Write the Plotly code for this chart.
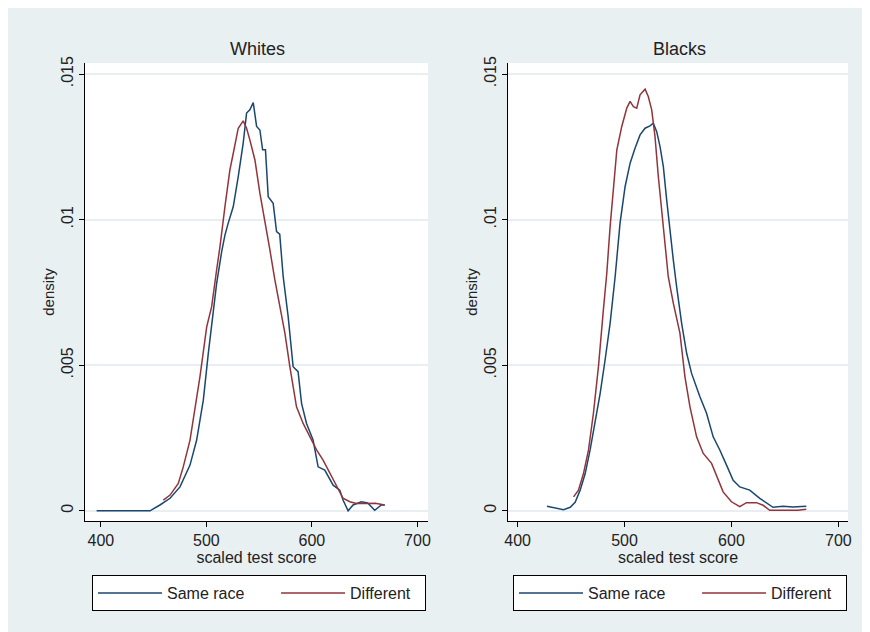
import plotly.graph_objects as go

# ---- data ----
w_same_x = [396, 446.6, 456, 465.6, 475, 484.5, 490.8, 497.1, 501.8, 506.5, 509.7, 514.5, 517.6, 520.7,
            525.5, 530.2, 534.9, 538.1, 541.2, 544.4, 547.6, 550.7, 553.3, 556, 558.6, 563.3, 566.5,
            569.5, 572.8, 577.5, 582.2, 586.9, 590.2, 594.9, 601.1, 605.9, 612.2, 620.1, 626.4, 629.5,
            634.3, 639, 646.9, 652.9, 659.5, 665.8, 669]
w_same_y = [0, 0, 0.0002, 0.00043, 0.00082, 0.00157, 0.00243, 0.0038, 0.0054, 0.0068, 0.0078, 0.0089,
            0.00947, 0.00988, 0.01045, 0.01148, 0.01263, 0.01366, 0.01377, 0.01402, 0.0132, 0.01308,
            0.0124, 0.0124, 0.01079, 0.01056, 0.00959, 0.0095, 0.00804, 0.00667, 0.00495, 0.00478,
            0.00369, 0.003, 0.00243, 0.00151, 0.0014, 0.00088, 0.00071, 0.00037, 0, 0.0002, 0.00031,
            0.00027, 0.00002, 0.0002, 0.0002]

w_diff_x = [459.2, 465.6, 473.4, 478.1, 484.5, 489.2, 493.9, 500.3, 505, 509.7, 512.9, 517.6, 522.3,
            525.5, 530.2, 534.9, 538.1, 541.2, 546, 550.7, 555.4, 560.2, 564.9, 569.6, 574.4, 579.1,
            585.4, 591.7, 598, 604.4, 610.6, 616.9, 623.3, 629.5, 635.9, 642.2, 652, 660, 669]
w_diff_y = [0.00037, 0.00054, 0.00094, 0.00151, 0.00243, 0.00346, 0.0046, 0.00632, 0.00701, 0.00827,
            0.00907, 0.01045, 0.01171, 0.01228, 0.01314, 0.01339, 0.01314, 0.01274, 0.01205, 0.01091,
            0.00999, 0.00896, 0.00793, 0.00701, 0.0061, 0.00495, 0.00357, 0.003, 0.00254, 0.00209,
            0.00174, 0.00129, 0.00082, 0.00043, 0.00031, 0.00025, 0.00025, 0.00026, 0.0002]

b_same_x = [427.4, 435.2, 442.9, 449.2, 453.8, 458.5, 463.2, 467.8, 472.5, 477.2, 481.8, 486.5, 491.2,
            495.8, 500.5, 505.2, 509.8, 514.5, 519.2, 523.8, 526.9, 530.1, 533.2, 536.3, 539.4, 542.5,
            545.6, 548.7, 553.4, 558.1, 562.7, 570.5, 576.7, 582.9, 589.1, 595.4, 601.6, 607.8, 617.1,
            626.5, 632.7, 638.9, 648.2, 657.5, 670]
b_same_y = [0.00016, 0.0001, 0.00004, 0.00012, 0.00029, 0.00071, 0.00128, 0.00209, 0.003, 0.00403,
            0.00518, 0.00644, 0.00804, 0.00988, 0.01113, 0.01194, 0.01245, 0.01291, 0.01314, 0.01322,
            0.01331, 0.01302, 0.01251, 0.01182, 0.01068, 0.00953, 0.00862, 0.0077, 0.00644, 0.00541,
            0.00472, 0.00392, 0.00335, 0.00254, 0.00209, 0.00157, 0.00105, 0.00082, 0.00071, 0.00043,
            0.00028, 0.00012, 0.00016, 0.00013, 0.00016]

b_diff_x = [452.3, 456.9, 461.6, 466.3, 470.9, 475.6, 480.2, 483.4, 486.5, 489.6, 492.8, 497.4, 502.1,
            505.2, 508.3, 511.4, 514.5, 519.2, 522.2, 525.4, 528.5, 531.6, 534.7, 537.8, 540.9, 545.6,
            551.8, 556.5, 561.2, 567.4, 573.6, 581.4, 587.6, 592.2, 600, 607.8, 614, 623.4, 629.6,
            635.8, 650, 662.1, 670]
b_diff_y = [0.00048, 0.00071, 0.00128, 0.00209, 0.00335, 0.00495, 0.0069, 0.00816, 0.00976, 0.01113,
            0.0124, 0.0132, 0.01383, 0.01406, 0.01388, 0.01383, 0.01429, 0.01448, 0.01423, 0.01377,
            0.01285, 0.01148, 0.01033, 0.00919, 0.00804, 0.00713, 0.0061, 0.0046, 0.00357, 0.00254,
            0.00197, 0.00163, 0.00105, 0.00065, 0.00031, 0.00014, 0.00028, 0.00028, 0.00019, 0.00002,
            0.00002, 0.00002, 0.00005]

panel_titles = ["Whites", "Blacks"]
series_names = ["Same race", "Different"]
x_ticks = [400, 500, 600, 700]
y_ticks = [0, 0.005, 0.01, 0.015]
y_ticktext = ["0", ".005", ".01", ".015"]

BLUE = "#1a476f"
RED = "#90353b"
BG = "#e9f0f2"
TXT = "#222222"
FONT = "Liberation Sans, Arial, sans-serif"

# the page body has an 8px margin, so the figure sits at (8, 8) in the window
OFF = 8
W, H = 862, 624
fig = go.Figure()

legend_names = [series_names[0] + "\u00a0" * 6, series_names[1] + "\u00a0" * 2]

fig.add_trace(go.Scatter(x=w_same_x, y=w_same_y, mode="lines", name=legend_names[0],
                         line=dict(color=BLUE, width=1.5), xaxis="x", yaxis="y", legend="legend"))
fig.add_trace(go.Scatter(x=w_diff_x, y=w_diff_y, mode="lines", name=legend_names[1],
                         line=dict(color=RED, width=1.5), xaxis="x", yaxis="y", legend="legend"))
fig.add_trace(go.Scatter(x=b_same_x, y=b_same_y, mode="lines", name=legend_names[0],
                         line=dict(color=BLUE, width=1.5), xaxis="x2", yaxis="y2", legend="legend2"))
fig.add_trace(go.Scatter(x=b_diff_x, y=b_diff_y, mode="lines", name=legend_names[1],
                         line=dict(color=RED, width=1.5), xaxis="x2", yaxis="y2", legend="legend2"))

def px(x):
    return (x - OFF) / W

def py(y):
    return 1 - (y - OFF) / H

ydom = [py(521), py(63)]
xaxis_common = dict(tickvals=x_ticks, ticks="outside", ticklen=5, tickcolor="black",
                    showline=True, linecolor="black", linewidth=1, showgrid=False, zeroline=False,
                    automargin=False,
                    tickfont=dict(size=16, color=TXT, family=FONT),
                    title=dict(text="scaled test score", font=dict(size=16, color=TXT, family=FONT), standoff=0))
yaxis_common = dict(tickvals=y_ticks, ticktext=y_ticktext, ticks="outside", ticklen=5, tickcolor="black",
                    showline=True, linecolor="black", linewidth=1, showgrid=True, gridcolor="#e8eef2",
                    gridwidth=1.5, zeroline=False, tickangle=-90, automargin=False,
                    tickfont=dict(size=16, color=TXT, family=FONT),
                    title=dict(text="density", font=dict(size=15, color=TXT, family=FONT), standoff=0))

legend_common = dict(yanchor="top", xanchor="left", orientation="h",
                     bgcolor="white", bordercolor="black", borderwidth=1,
                     font=dict(size=16, color=TXT, family=FONT), itemwidth=64)

fig.update_layout(
    width=W, height=H,
    margin=dict(l=0, r=0, t=0, b=0, autoexpand=False),
    paper_bgcolor=BG, plot_bgcolor="white",
    font=dict(family=FONT, color=TXT),
    xaxis=dict(domain=[px(85), px(428)], range=[385, 710], anchor="y", **xaxis_common),
    yaxis=dict(domain=ydom, range=[-0.00035, 0.01538], anchor="x", **yaxis_common),
    xaxis2=dict(domain=[px(508), px(848)], range=[391, 709], anchor="y2", **xaxis_common),
    yaxis2=dict(domain=ydom, range=[-0.00035, 0.01538], anchor="x2", **yaxis_common),
    legend=dict(x=px(92), y=py(575), **legend_common),
    legend2=dict(x=px(513), y=py(575), **legend_common),
    showlegend=True,
)

fig.add_annotation(text=panel_titles[0], x=px(257), y=py(49), xref="paper", yref="paper",
                   xanchor="center", yanchor="middle",
                   showarrow=False, font=dict(size=18, color=TXT, family=FONT))
fig.add_annotation(text=panel_titles[1], x=px(679), y=py(49), xref="paper", yref="paper",
                   xanchor="center", yanchor="middle",
                   showarrow=False, font=dict(size=18, color=TXT, family=FONT))

fig.write_html("out.html")
